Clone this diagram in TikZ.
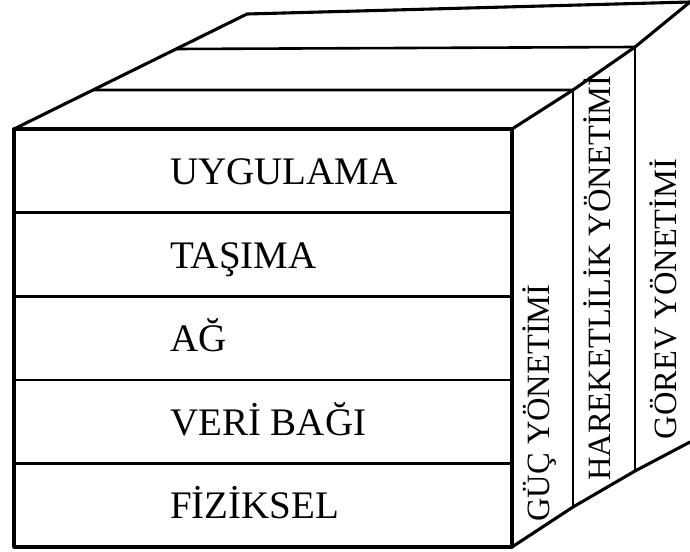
\documentclass[tikz,border=0pt]{standalone}
\usepackage{fontspec}
\setmainfont{Liberation Serif}
\begin{document}
\begin{tikzpicture}[x=1pt,y=-1pt,
  edge/.style={line width=3.1pt, line join=round, line cap=round},
  divider/.style={line width=2.6pt},
  rib/.style={line width=2.2pt},
  layer/.style={anchor=base west, inner sep=0pt, font=\fontsize{39}{39}\selectfont},
  side/.style={rotate=90, anchor=base, inner sep=0pt, font=\fontsize{32.5}{32.5}\selectfont}]
\useasboundingbox (0,0) rectangle (690,551);
% front face
\coordinate (FTL) at (14,129);
\coordinate (FTR) at (512,129);
\coordinate (FBR) at (512,547);
\coordinate (FBL) at (14,547);
% top face strips
\coordinate (T1L) at (93,90);
\coordinate (T1R) at (573,90);
\coordinate (T2L) at (176,49);
\coordinate (T2R) at (635,47);
\coordinate (BL) at (247,14);
\coordinate (BR) at (690,2);
% bottom of the side face
\coordinate (B1) at (573,507);
\coordinate (B2) at (635,471);
\coordinate (B3) at (690,442);
% layer dividers
\coordinate (D1L) at (14,212.6);  \coordinate (D1R) at (512,212.6);
\coordinate (D2L) at (14,296.2);  \coordinate (D2R) at (512,296.2);
\coordinate (D3L) at (14,379.8);  \coordinate (D3R) at (512,379.8);
\coordinate (D4L) at (14,463.4);  \coordinate (D4R) at (512,463.4);

\draw[divider] (D1L) -- (D1R) (D2L) -- (D2R) (D3L) -- (D3R) (D4L) -- (D4R);
\draw[divider] (T1L) -- (T1R) (T2L) -- (T2R);
\draw[rib] (T1R) -- (B1) (T2R) -- (B2);
\draw[edge] (FTL) -- (FTR) -- (FBR) -- (FBL) -- cycle;
\draw[edge] (FTL) -- (BL) -- (BR);
\draw[edge] (FTR) -- (T1R) -- (T2R) -- (BR);
\draw[edge] (FBR) -- (B1) -- (B2) -- (B3);

% layer names
\node[layer] (app)  at (170,184.5) {UYGULAMA};
\node[layer] (trn)  at (170,268)   {TAŞIMA};
\node[layer] (net)  at (170,351.5) {AĞ};
\node[layer] (link) at (170,435)   {VERİ BAĞI};
\node[layer] (phy)  at (170,518.5) {FİZİKSEL};

% management planes
\node[side] (pwr) at (549,403) {GÜÇ YÖNETİMİ};
\node[side] (mob) at (610,278) {HAREKETLİLİK YÖNETİMİ};
\node[side] (task) at (676,299) {GÖREV YÖNETİMİ};
\end{tikzpicture}
\end{document}
